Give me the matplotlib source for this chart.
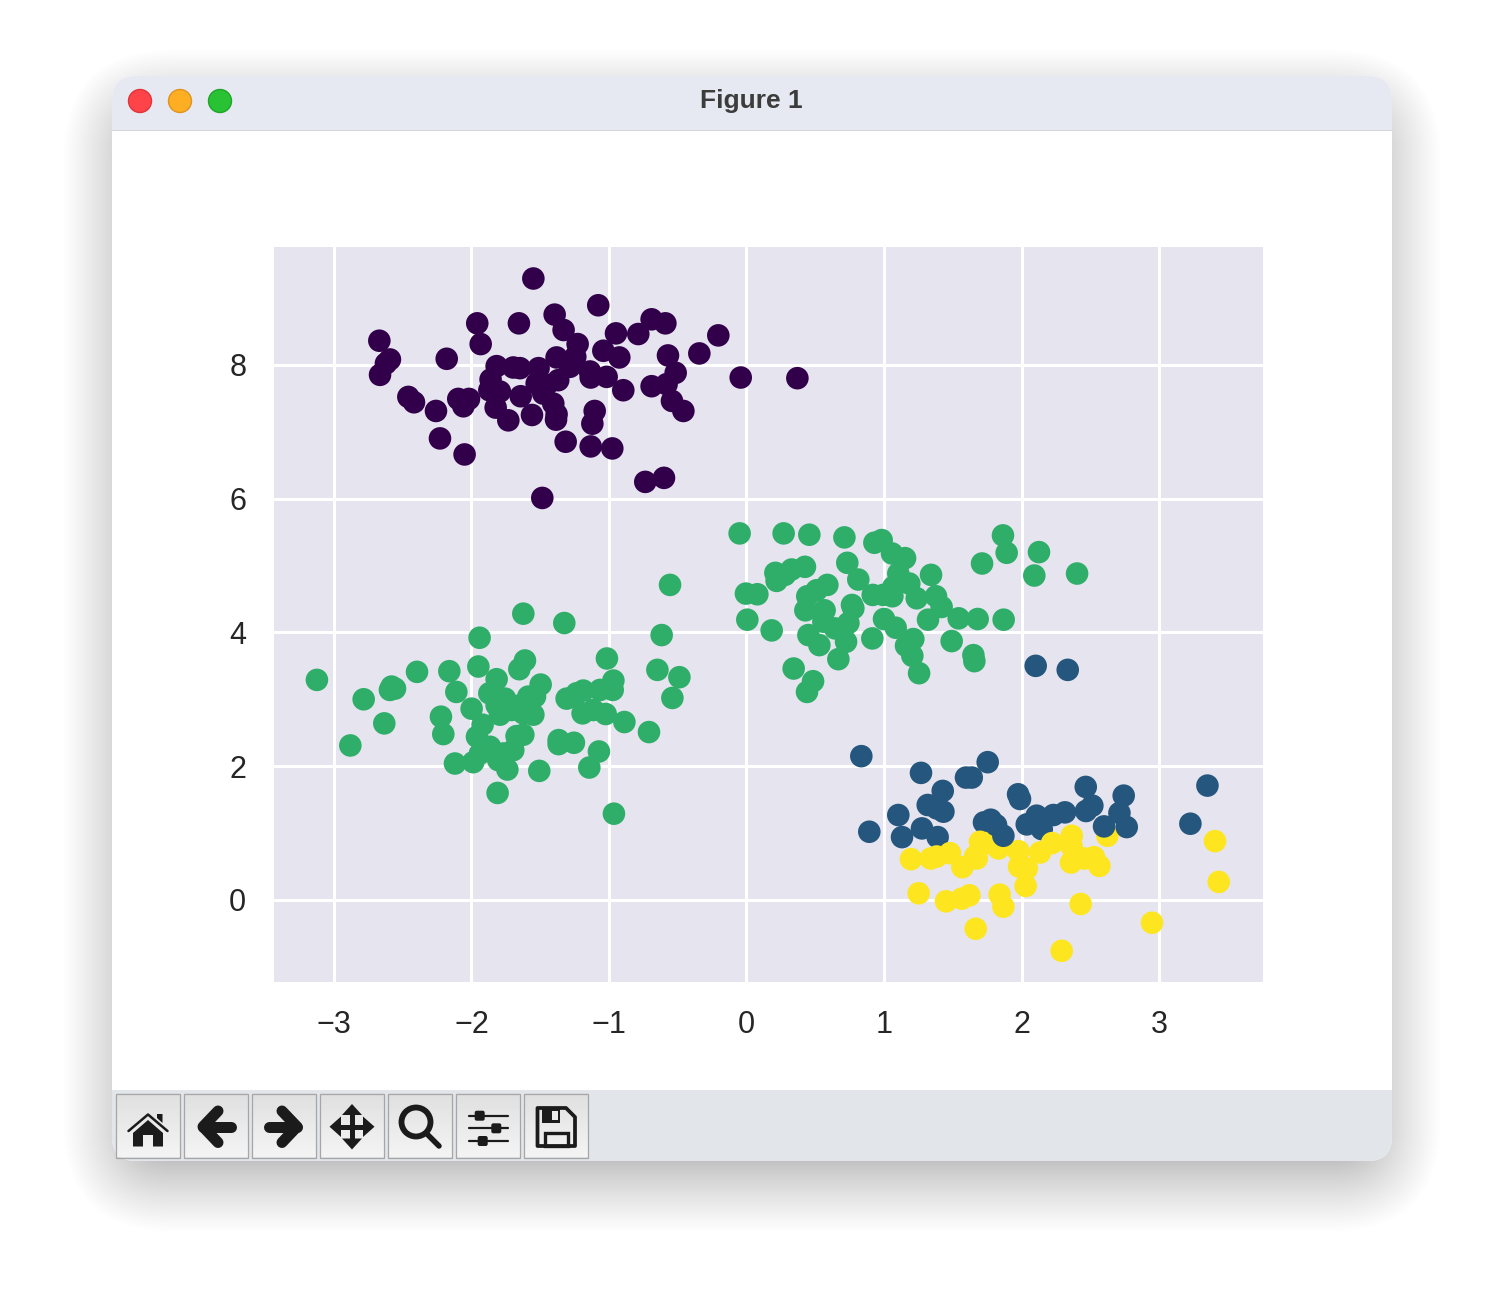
import numpy as np
import matplotlib
matplotlib.use("Agg")
import matplotlib.pyplot as plt
from matplotlib.colors import ListedColormap
from matplotlib.patches import Circle, FancyBboxPatch, Polygon, Rectangle

# cluster values
purple_x = [-1.55, -1.078, -1.395, -1.33, -1.958, -1.655, -0.69, -0.59, -0.949, -0.787, -0.205, -2.67,
            -2.593, -2.622, -2.665, -2.18, -1.933, -1.228, -0.571, -0.343, -1.041, -0.925, -1.381, -1.245,
            -1.817, -1.696, -1.647, -1.512, -1.138, -1.133, -1.017, -1.284, -0.515, -0.042, 0.37, -1.861,
            -1.87, -1.793, -1.369, -1.526, -1.453, -0.896, -0.69, -0.581, -2.459, -2.418, -2.258, -2.096,
            -2.018, -2.059, -1.824, -1.732, -1.642, -1.56, -1.478, -1.405, -1.381, -1.385, -0.542, -0.459,
            -1.104, -1.121, -2.229, -2.05, -1.315, -1.133, -0.976, -0.736, -0.6, -1.485]
purple_y = [9.29, 8.89, 8.75, 8.52, 8.62, 8.62, 8.68, 8.62, 8.47, 8.46, 8.44, 8.36,
            8.08, 8.02, 7.85, 8.09, 8.31, 8.31, 8.14, 8.17, 8.21, 8.11, 8.11, 8.12,
            7.98, 7.96, 7.95, 7.95, 7.90, 7.81, 7.82, 7.97, 7.88, 7.81, 7.80, 7.78,
            7.62, 7.60, 7.77, 7.72, 7.70, 7.62, 7.68, 7.71, 7.52, 7.44, 7.31, 7.49,
            7.49, 7.38, 7.36, 7.17, 7.53, 7.25, 7.57, 7.42, 7.26, 7.18, 7.46, 7.31,
            7.31, 7.12, 6.90, 6.66, 6.85, 6.78, 6.75, 6.25, 6.31, 6.01]

green_x = [-1.623, -1.325, -1.941, -0.617, -1.95, -1.015, -0.648, -0.488, -0.539, -3.124, -2.396, -2.161,
           -1.611, -1.652, -1.817, -1.497, -0.968, -2.556, -2.581, -2.593, -2.784, -2.11, -1.87, -1.756,
           -1.538, -1.587, -1.308, -1.235, -1.187, -1.065, -0.973, -1.999, -2.222, -2.205, -1.919, -2.634,
           -1.793, -1.708, -1.55, -1.192, -1.114, -1.024, -0.888, -0.709, -1.96, -1.672, -1.623, -1.366,
           -1.366, -1.255, -2.881, -1.073, -1.143, -2.12, -1.987, -1.89, -1.938, -1.805, -1.696, -1.739,
           -1.507, -1.81, -0.964, -1.768, -1.865, -1.623, -1.817, -1.647, -0.556,
           -0.05, 0.27, 0.457, 0.712, 0.93, 0.983, 1.058, 1.153, 1.865, 1.892, 2.127, 1.713,
           2.093, 2.404, 0.733, 0.425, 0.328, 0.21, 0.219, 0.28, 1.342, 1.104, 1.184, 0.588,
           0.51, 0.442, 0.813, 1.068, 0.995, 0.918, 1.061, -0.004, 0.079, 1.238, 1.378, 1.419,
           0.777, 0.767, 0.428, 0.568, 0.006, 0.183, 1.32, 1.543, 1.681, 1.87, 0.741, 1.0,
           1.085, 0.559, 0.644, 0.45, 0.53, 0.724, 0.915, 1.213, 1.16, 1.206, 1.492, 1.65,
           1.657, 0.668, 0.343, 0.484, 0.44, 1.255]
green_y = [4.28, 4.14, 3.92, 3.96, 3.49, 3.61, 3.44, 3.33, 3.02, 3.29, 3.41, 3.42,
           3.58, 3.45, 3.30, 3.22, 3.28, 3.16, 3.19, 3.14, 3.00, 3.11, 3.09, 3.01,
           3.04, 3.04, 3.01, 3.09, 3.13, 3.14, 3.14, 2.86, 2.74, 2.48, 2.62, 2.64,
           2.77, 2.84, 2.77, 2.79, 2.84, 2.78, 2.66, 2.51, 2.44, 2.45, 2.47, 2.39,
           2.33, 2.35, 2.31, 2.22, 1.98, 2.04, 2.06, 2.25, 2.19, 2.09, 2.24, 1.95,
           1.93, 1.60, 1.29, 2.19, 2.29, 2.79, 2.91, 2.91, 4.71,
           5.48, 5.48, 5.46, 5.42, 5.34, 5.38, 5.18, 5.11, 5.45, 5.19, 5.20, 5.03,
           4.85, 4.88, 5.04, 4.98, 4.94, 4.89, 4.77, 4.86, 4.86, 4.88, 4.73, 4.71,
           4.63, 4.54, 4.79, 4.68, 4.56, 4.56, 4.54, 4.58, 4.57, 4.51, 4.54, 4.38,
           4.36, 4.41, 4.33, 4.33, 4.19, 4.03, 4.19, 4.21, 4.20, 4.19, 4.14, 4.20,
           4.07, 4.16, 4.06, 3.96, 3.81, 3.86, 3.91, 3.90, 3.80, 3.65, 3.87, 3.66,
           3.57, 3.60, 3.46, 3.27, 3.11, 3.39]

blue_x = [2.103, 2.336, 0.835, 1.269, 1.754, 1.596, 1.638, 1.427, 1.975, 1.989, 2.467, 2.743, 3.352,
          3.228, 1.318, 1.383, 1.432, 1.104, 0.893, 1.131, 1.276, 1.39, 1.727, 1.776, 2.11, 2.038,
          2.147, 2.232, 2.316, 2.469, 2.515, 2.712]
blue_y = [3.50, 3.44, 2.15, 1.90, 2.06, 1.83, 1.83, 1.63, 1.58, 1.51, 1.69, 1.56, 1.71,
          1.14, 1.42, 1.37, 1.32, 1.27, 1.02, 0.94, 1.07, 0.94, 1.16, 1.20, 1.26, 1.13,
          1.06, 1.27, 1.31, 1.33, 1.41, 1.30]
# these few sit on top of the yellow ones
blue_top_x = [2.6, 2.765, 1.868, 1.815]
blue_top_y = [1.10, 1.09, 0.96, 1.12]

yellow_x = [2.624, 3.407, 3.434, 1.698, 1.747, 1.196, 1.339, 1.383, 1.48, 1.57, 1.662, 1.674, 1.832,
            1.977, 1.982, 2.038, 2.03, 2.135, 2.222, 2.365, 2.365, 2.36, 2.457, 2.527, 2.566, 1.252,
            1.451, 1.565, 1.621, 1.841, 1.868, 2.43, 2.949, 1.667, 2.292]
yellow_y = [0.96, 0.88, 0.27, 0.87, 0.85, 0.61, 0.62, 0.65, 0.70, 0.49, 0.65, 0.62, 0.77,
            0.73, 0.50, 0.47, 0.21, 0.71, 0.85, 0.96, 0.80, 0.56, 0.62, 0.64, 0.51, 0.10,
            -0.02, 0.02, 0.07, 0.08, -0.10, -0.06, -0.34, -0.43, -0.76]

x_ticks = [-3, -2, -1, 0, 1, 2, 3]
y_ticks = [0, 2, 4, 6, 8]
title_text = "Figure 1"

W, H = 1504, 1312
DARK = "#1B1B1B"

fig = plt.figure(figsize=(W / 200, H / 200), dpi=200, facecolor="white")
plt.rcParams["font.family"] = ["Liberation Sans", "DejaVu Sans"]

# window chrome, in pixel units of the screenshot
chrome = fig.add_axes([0, 0, 1, 1], zorder=0)
chrome.set_xlim(0, W)
chrome.set_ylim(H, 0)
chrome.axis("off")

# soft shadow, layers packed closer near the window
n_layers = 60
for i in range(n_layers):
    grow = -22 + 100 * (1 - i / n_layers) ** 1.7
    chrome.add_patch(FancyBboxPatch((112 - grow + 30, 76 + 22 - grow + 30), 1280 + 2 * grow - 60, 1085 + 2 * grow - 60,
                                    boxstyle="round,pad=0,rounding_size=%d" % (30 + max(grow, 0)), fc="black", ec="none",
                                    alpha=0.0062, mutation_aspect=1))

window = FancyBboxPatch((112, 76), 1280, 1085, boxstyle="round,pad=0,rounding_size=24", fc="white", ec="none")
chrome.add_patch(window)
title_bar = Rectangle((112, 76), 1280, 54, fc="#E6E9F1", ec="none")
chrome.add_patch(title_bar)
title_bar.set_clip_path(window)
title_line = Rectangle((112, 130), 1280, 1.2, fc="#D4D5D9", ec="none")
chrome.add_patch(title_line)
tool_bar = Rectangle((112, 1090), 1280, 72, fc="#E2E5E9", ec="none")
chrome.add_patch(tool_bar)
tool_bar.set_clip_path(window)

for cx, fc, ec in [(140, "#FF4449", "#E0343A"), (180, "#FEAE22", "#DE9420"), (220, "#29C234", "#1FA52A")]:
    chrome.add_patch(Circle((cx, 101), 11.5, fc=fc, ec=ec, lw=0.5))
chrome.text(751, 101, title_text, ha="center", va="center", fontsize=9.5, fontweight="bold", color="#3C3C3C")

# toolbar buttons
gradient = np.linspace(0.875, 0.955, 64).reshape(-1, 1)
for left in [116, 184, 252, 320, 388, 456, 524]:
    chrome.imshow(gradient, extent=(left, left + 63.5, 1157.5, 1094), cmap="gray", vmin=0, vmax=1, aspect="auto", zorder=3)
    chrome.add_patch(Rectangle((left, 1094), 63.5, 63.5, fc="none", ec="#A6A6A6", lw=0.45, zorder=4))
chrome.set_xlim(0, W)
chrome.set_ylim(H, 0)


def stroke(xs, ys, px):
    chrome.plot(xs, ys, color=DARK, lw=px * 0.36, solid_capstyle="round", solid_joinstyle="round", zorder=5)


def shape(points, color=DARK):
    chrome.add_patch(Polygon(points, closed=True, fc=color, ec="none", zorder=5))


# home
stroke([128.5, 148, 167.5], [1131, 1114.5, 1131], 2.5)
shape([(133, 1133), (148, 1120), (163, 1133), (163, 1146.5), (153, 1146.5), (153, 1135),
       (143, 1135), (143, 1146.5), (133, 1146.5)])
shape([(157, 1114), (162.5, 1114), (162.5, 1123), (157, 1118)])
# back, forward
stroke([231, 203], [1126.7, 1126.7], 11)
stroke([218, 203, 218], [1111, 1126.7, 1142.5], 11)
stroke([269, 297], [1126.7, 1126.7], 11)
stroke([282, 297, 282], [1111, 1126.7, 1142.5], 11)
# pan
stroke([352, 352], [1110, 1143], 5)
stroke([335, 369], [1126.7, 1126.7], 5)
shape([(352, 1104), (362, 1115), (342, 1115)])
shape([(352, 1149.5), (362, 1138.5), (342, 1138.5)])
shape([(329.5, 1126.7), (341, 1116.5), (341, 1137)])
shape([(374.5, 1126.7), (363, 1116.5), (363, 1137)])
# zoom
chrome.add_patch(Circle((416, 1122), 14.5, fc="none", ec=DARK, lw=2.1, zorder=5))
stroke([427, 439], [1134, 1146], 5.5)
# sliders
for y, knob in [(1115.7, 479.7), (1128.3, 496.3), (1141, 482.7)]:
    stroke([469, 507.5], [y, y], 2.2)
    chrome.add_patch(FancyBboxPatch((knob - 4, y - 4), 8, 8, boxstyle="round,pad=1,rounding_size=2", fc=DARK, ec="none", zorder=5))
# save
chrome.add_patch(Polygon([(537.5, 1108), (566, 1108), (575, 1117), (575, 1146), (537.5, 1146)], closed=True,
                         fc="none", ec=DARK, lw=1.35, joinstyle="round", zorder=5))
chrome.add_patch(Rectangle((542, 1109), 18, 14, fc=DARK, ec="none", zorder=5))
chrome.add_patch(Rectangle((552, 1111), 6, 9, fc="#E9E9E9", ec="none", zorder=5))
chrome.add_patch(Rectangle((544.5, 1132.5), 23.5, 13.5, fc="none", ec=DARK, lw=1.2, zorder=5))

# the chart itself
ax = fig.add_axes([274 / W, 1 - 982 / H, (1263 - 274) / W, (982 - 247) / H], zorder=1)
ax.set_facecolor("#E5E4EF")
for side in ax.spines.values():
    side.set_visible(False)
ax.grid(True, color="white", lw=1.1)
ax.set_axisbelow(True)

xs = np.concatenate([purple_x, green_x, blue_x, yellow_x, blue_top_x])
ys = np.concatenate([purple_y, green_y, blue_y, yellow_y, blue_top_y])
labels = np.concatenate([np.full(len(purple_x), 0), np.full(len(green_x), 2), np.full(len(blue_x), 1),
                         np.full(len(yellow_x), 3), np.full(len(blue_top_x), 1)])
cmap = ListedColormap(["#32004A", "#25567D", "#2FAE69", "#FDE61F"])
ax.scatter(xs, ys, c=labels, cmap=cmap, vmin=0, vmax=3, s=66, linewidths=0)

ax.set_xlim(-3.436, 3.756)
ax.set_ylim(-1.226, 9.761)
ax.set_xticks(x_ticks)
ax.set_yticks(y_ticks)
ax.tick_params(length=0, labelsize=11, labelcolor="#262626", pad=10)

fig.savefig("out.png", dpi=200)
